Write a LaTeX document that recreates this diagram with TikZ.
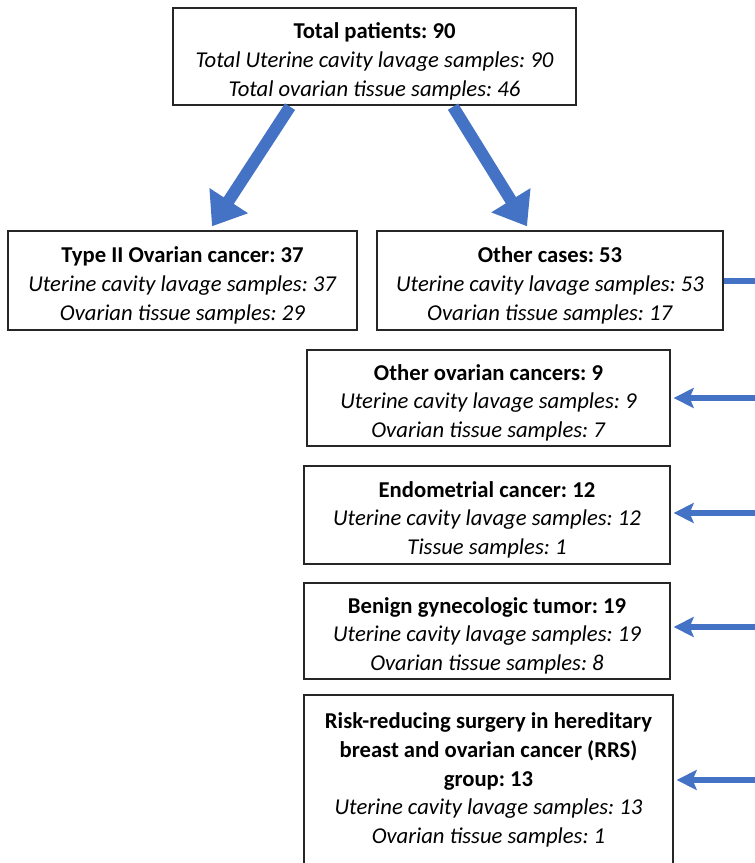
\documentclass[tikz,border=0pt]{standalone}
\usepackage{fontspec}
\setmainfont{Carlito}
\usetikzlibrary{arrows.meta,calc}
\definecolor{arrblue}{HTML}{4472C4}
\frenchspacing
\newcommand{\hstrut}{\rule{0pt}{19pt}}
\begin{document}
\begin{tikzpicture}[x=0.75pt,y=-0.75pt,
  boxnode/.style={draw=black!85, line width=1pt, align=center, inner sep=0pt,
    font={\frenchspacing\fontsize{17}{21.5}\selectfont}},
  bigarrow/.style={draw=arrblue, line width=9pt, -{Triangle[length=23pt,width=33pt]}},
  sidearrow/.style={draw=arrblue, line width=4.5pt, -{Stealth[length=15pt,width=15pt,inset=3pt]}},
  sideline/.style={draw=arrblue, line width=4.5pt}]
\useasboundingbox (0,0) rectangle (755,863);
\coordinate (edge) at (755,0);
\node[boxnode, minimum width=403*0.75pt, minimum height=97*0.75pt] (top) at (374.5,56.5)
  {\hstrut\textbf{Total patients: 90}\\\textit{Total Uterine cavity lavage samples: 90}\\\textit{Total ovarian tissue samples: 46}};
\node[boxnode, minimum width=349*0.75pt, minimum height=99*0.75pt] (type2) at (182.5,280.5)
  {\hstrut\textbf{Type II Ovarian cancer: 37}\\\textit{Uterine cavity lavage samples: 37}\\\textit{Ovarian tissue samples: 29}};
\node[boxnode, minimum width=346*0.75pt, minimum height=99*0.75pt] (other) at (550,280.5)
  {\hstrut\textbf{Other cases: 53}\\\textit{Uterine cavity lavage samples: 53}\\\textit{Ovarian tissue samples: 17}};
\node[boxnode, minimum width=363*0.75pt, minimum height=96*0.75pt] (otherov) at (488.5,398)
  {\hstrut\textbf{Other ovarian cancers: 9}\\\textit{Uterine cavity lavage samples: 9}\\\textit{Ovarian tissue samples: 7}};
\node[boxnode, minimum width=366*0.75pt, minimum height=98*0.75pt] (endo) at (487,515)
  {\hstrut\textbf{Endometrial cancer: 12}\\\textit{Uterine cavity lavage samples: 12}\\\textit{Tissue samples: 1}};
\node[boxnode, minimum width=366*0.75pt, minimum height=96*0.75pt] (benign) at (487,631)
  {\hstrut\textbf{Benign gynecologic tumor: 19}\\\textit{Uterine cavity lavage samples: 19}\\\textit{Ovarian tissue samples: 8}};
\node[boxnode, minimum width=369*0.75pt, minimum height=170*0.75pt] (rrs) at (488.5,780)
  {\textbf{Risk-reducing surgery in hereditary}\\\textbf{breast and ovarian cancer (RRS)}\\\textbf{group: 13}\\\textit{Uterine cavity lavage samples: 13}\\\textit{Ovarian tissue samples: 1}};
\draw[bigarrow] ($(top.south)+(-84.5,1)$) -- ($(type2.north)+(29.5,-4)$);
\draw[bigarrow] ($(top.south)+(78.5,1)$) -- ($(other.north)+(-23,-4)$);
\draw[sideline] (other.east) -- (other.east -| edge);
\draw[sidearrow] (otherov.east -| edge) -- ($(otherov.east)+(3,0)$);
\draw[sidearrow] ($(endo.east -| edge)+(0,-2)$) -- ($(endo.east)+(3,-2)$);
\draw[sidearrow] ($(benign.east -| edge)+(0,-4)$) -- ($(benign.east)+(3,-4)$);
\draw[sidearrow] (rrs.east -| edge) -- ($(rrs.east)+(3,0)$);
\end{tikzpicture}
\end{document}
